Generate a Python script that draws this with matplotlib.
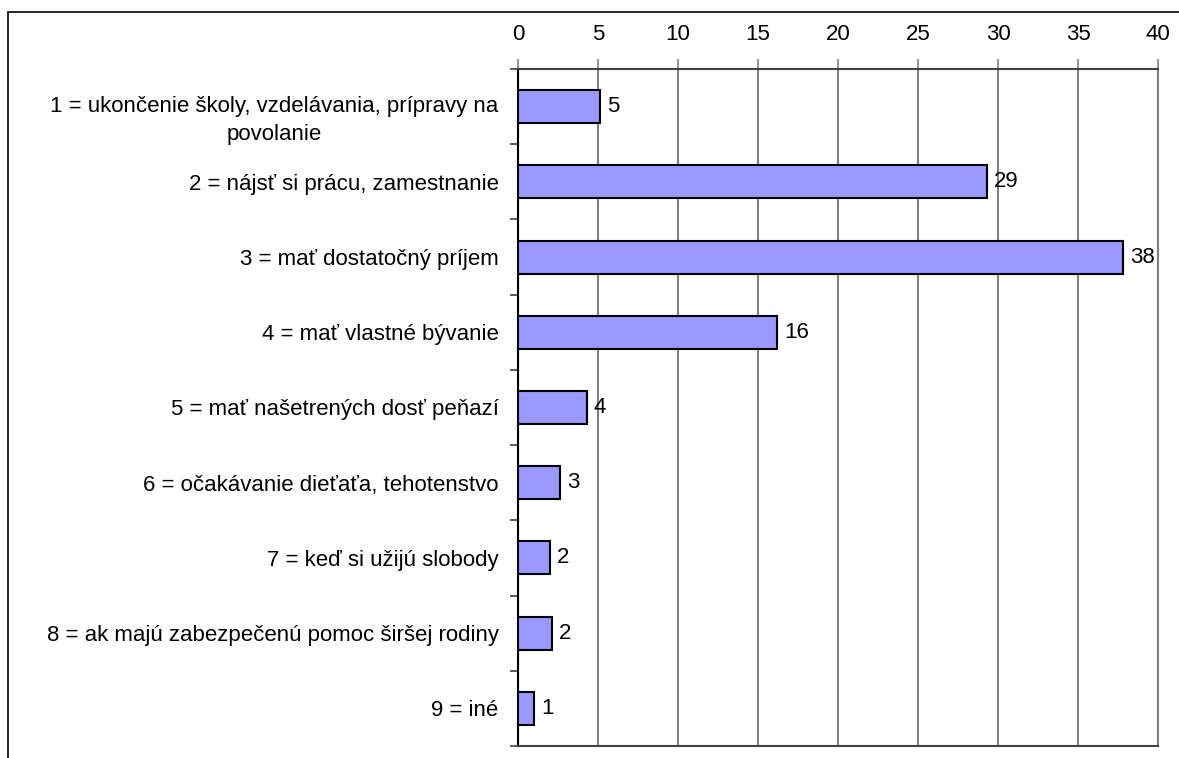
import matplotlib.pyplot as plt
import matplotlib.transforms as mtransforms
from matplotlib.patches import Rectangle
import numpy as np

plt.rcParams['font.family'] = ['Liberation Sans', 'DejaVu Sans']

# ---------------------------Data---------------------------
categories = [
    "1 = ukončenie školy, vzdelávania, prípravy na\npovolanie",
    "2 = nájsť si prácu, zamestnanie",
    "3 = mať dostatočný príjem",
    "4 = mať vlastné bývanie",
    "5 = mať našetrených dosť peňazí",
    "6 = očakávanie dieťaťa, tehotenstvo",
    "7 = keď si užijú slobody",
    "8 = ak majú zabezpečenú pomoc širšej rodiny",
    "9 = iné",
]
values = [5.1, 29.3, 37.8, 16.2, 4.3, 2.6, 2.0, 2.1, 1.0]
value_labels = ["5", "29", "38", "16", "4", "3", "2", "2", "1"]
xticks = [0, 5, 10, 15, 20, 25, 30, 35, 40]
# ------------------------------------------------------------

fig = plt.figure(figsize=(11.79, 7.58), dpi=100)

# outer chart frame (runs off the right and bottom of the picture)
fig.patches.append(Rectangle((8 / 1179, -0.1), 1.2, 1.1 - 12 / 758, transform=fig.transFigure,
                             fill=False, edgecolor='black', lw=1.2, zorder=0))

ax = fig.add_axes([518 / 1179, 12 / 758, 640 / 1179, 677 / 758])

y = np.arange(len(categories))
ax.barh(y, values, height=0.44, color='#9999FF', edgecolor='black', lw=1.5, zorder=3)
for yi, v, lab in zip(y, values, value_labels):
    ax.text(v + 0.45, yi, lab, va='center', ha='left', fontsize=16, zorder=4)

ax.set_xlim(0, 40)
ax.set_ylim(len(categories) - 0.5, -0.5)
ax.xaxis.tick_top()
ax.set_xticks(xticks)
ax.tick_params(axis='x', length=7, width=1.2, color='#808080', labelsize=16, pad=10)
ax.grid(axis='x', color='#808080', lw=1.5, zorder=1)

ax.set_yticks(y)
ax.set_yticklabels(categories, fontsize=16, multialignment='center', linespacing=1.45)
ax.set_yticks(np.arange(len(categories) + 1) - 0.5, minor=True)
ax.tick_params(axis='y', which='major', length=0, pad=14)
ax.tick_params(axis='y', which='minor', length=6, width=1.2, color='#404040')

# two-line label sits a bit lower than its bar
first = ax.get_yticklabels()[0]
first.set_transform(first.get_transform() +
                    mtransforms.ScaledTranslation(0, -8 / 100, fig.dpi_scale_trans))

for s in ['top', 'bottom']:
    ax.spines[s].set_color('#404040')
    ax.spines[s].set_linewidth(1.5)
ax.spines['right'].set_color('#808080')
ax.spines['right'].set_linewidth(1.5)
ax.spines['left'].set_color('black')
ax.spines['left'].set_linewidth(1.5)

fig.savefig('out.png', dpi=100)
